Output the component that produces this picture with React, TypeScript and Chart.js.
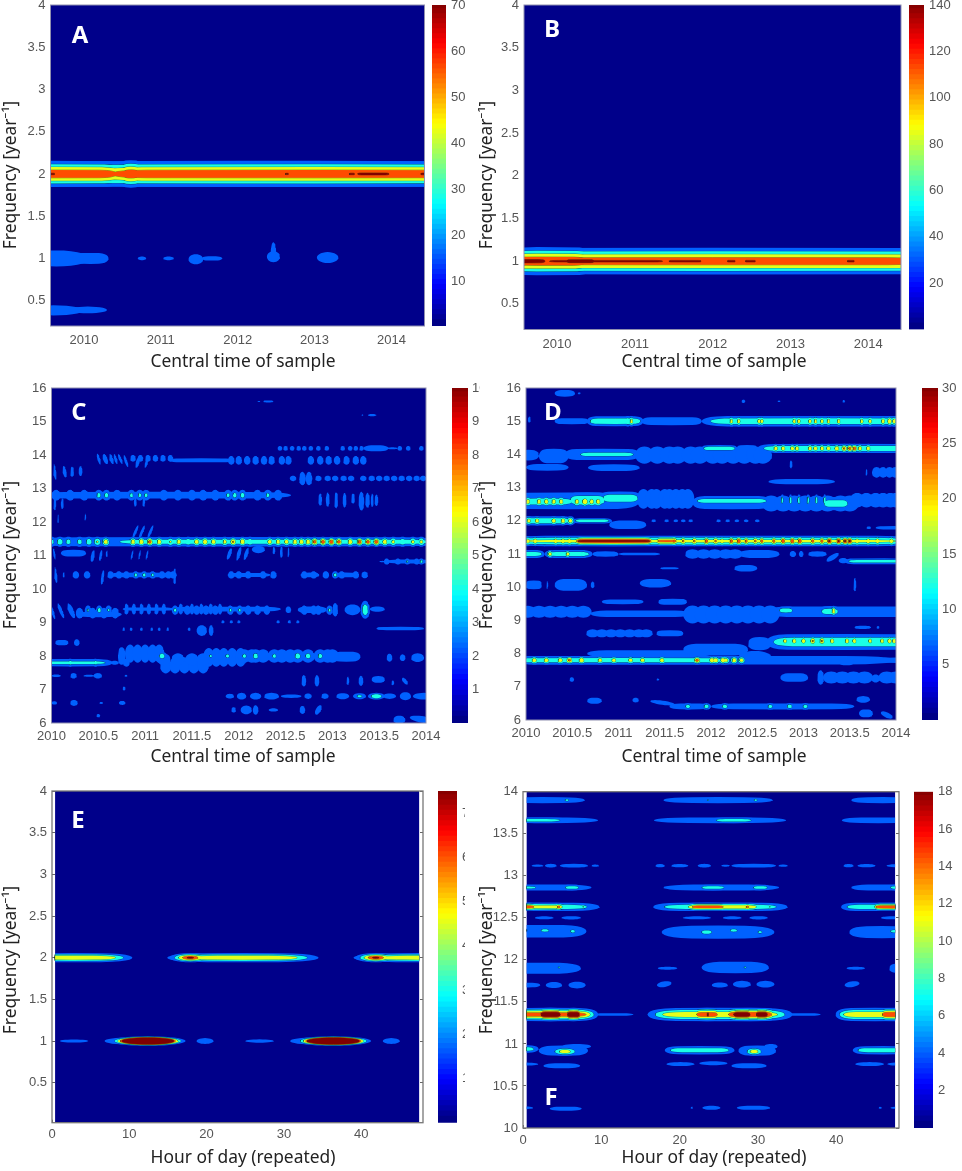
import { useEffect, useRef } from "react";
import { Chart, registerables } from "chart.js";

Chart.register(...registerables);

// lobe: [x0, x1, frequency, peak, half height, flatness?, tilt?]
// x0/x1 and half height are read at the outermost (blue) contour
type Lobe = number[];
// bead row: [frequency, half height, half width, [x, peak, x, peak, ...]]
type BeadRow = [number, number, number, number[]];

const yearsWhole = [2010, 2011, 2012, 2013, 2014];
const yearsHalf = [2010, 2010.5, 2011, 2011.5, 2012, 2012.5, 2013, 2013.5, 2014];
const hourTicks = [0, 10, 20, 30, 40];
const freqLowTicks = [0.5, 1, 1.5, 2, 2.5, 3, 3.5, 4];
const freqHighTicks = [6, 7, 8, 9, 10, 11, 12, 13, 14, 15, 16];
const freqFTicks = [10, 10.5, 11, 11.5, 12, 12.5, 13, 13.5, 14];
const barTicksA = [10, 20, 30, 40, 50, 60, 70];
const barTicksB = [20, 40, 60, 80, 100, 120, 140];
const barTicksC = [1, 2, 3, 4, 5, 6, 7, 8, 9, 10];
const barTicksD = [5, 10, 15, 20, 25, 30];
const barTicksE = [10, 20, 30, 40, 50, 60, 70];
const barTicksF = [2, 4, 6, 8, 10, 12, 14, 16, 18];

const levelFractions = [0.2, 0.4, 0.6, 0.8, 0.95];
const levelShades = [0.22, 0.4, 0.6, 0.8, 1];

const lobesA: Lobe[] = [
  [2008, 2016, 2, 55, 0.155, 8],
  [2008, 2010.55, 2, 64, 0.155, 14],
  [2010.1, 2016, 2, 64, 0.155, 16],
  [2010.42, 2010.8, 2, 64, 0.163, 3],
  [2013.45, 2013.52, 2, 200, 0.014, 12],
  [2013.55, 2013.98, 2, 200, 0.018, 12],
  [2012.62, 2012.66, 2, 200, 0.012, 12],
  [2014.38, 2014.5, 2, 200, 0.016, 12],
  [2009.55, 2009.62, 2, 200, 0.014, 12],
  [2009.2, 2010.08, 1, 18, 0.095],
  [2009.85, 2010.32, 1, 18, 0.065, 4],
  [2010.7, 2010.81, 1, 16, 0.022],
  [2011.03, 2011.17, 1, 16, 0.022],
  [2011.36, 2011.55, 0.99, 18, 0.06],
  [2011.53, 2011.8, 1, 16, 0.026, 3],
  [2012.38, 2012.55, 1.02, 18, 0.065],
  [2012.43, 2012.5, 1.08, 16, 0.11],
  [2013.03, 2013.31, 1.01, 18, 0.065],
  [2009.2, 2010.0, 0.385, 18, 0.06],
  [2009.8, 2010.3, 0.39, 16, 0.04],
];

const lobesB: Lobe[] = [
  [2008, 2016, 1, 125, 0.157, 8],
  [2009, 2010.48, 1, 128, 0.165, 10],
  [2009, 2009.87, 1, 300, 0.034, 14],
  [2010.12, 2010.48, 1, 300, 0.03, 14],
  [2009.87, 2011.39, 1, 300, 0.016, 18],
  [2011.43, 2011.86, 1, 300, 0.016, 18],
  [2012.19, 2012.29, 1, 300, 0.016, 18],
  [2012.42, 2012.55, 1, 300, 0.016, 18],
  [2013.73, 2013.82, 1, 300, 0.016, 18],
];

const lobesC: Lobe[] = [
  [2.26, 2.37, 15.6, 2.6, 0.03, 3],
  [2.2, 2.23, 15.6, 2.2, 0.015],
  [3.38, 3.47, 15.19, 2.5, 0.035],
  [3.31, 3.33, 15.19, 2.2, 0.02],
  [3.33, 3.6, 14.2, 3.3, 0.09, 3],
  [3.58, 3.7, 14.2, 2.2, 0.03],
  [1.25, 1.95, 13.84, 2.6, 0.06, 6],
  [0.49, 0.52, 13.88, 2.5, 0.16, 2, -0.015],
  [0.55, 0.6, 13.88, 2.6, 0.15, 2, -0.015],
  [0.62, 0.66, 13.88, 2.6, 0.15, 2, -0.015],
  [0.67, 0.7, 13.88, 2.6, 0.15, 2, -0.015],
  [0.72, 0.75, 13.88, 2.6, 0.15, 2, -0.02],
  [0.78, 0.81, 13.82, 2.6, 0.18, 2, -0.02],
  [0.9, 0.94, 13.78, 2.5, 0.16, 2, 0.015],
  [1.0, 1.03, 13.78, 2.5, 0.16, 2, 0.015],
  [0.02, 0.05, 13.5, 2.6, 0.24, 2, -0.01],
  [0.12, 0.16, 13.5, 2.6, 0.17, 2, -0.01],
  [0.2, 0.24, 13.5, 2.6, 0.15],
  [0.29, 0.33, 13.52, 2.6, 0.15],
  [-0.3, 2.56, 12.8, 3, 0.1, 8],
  [0.02, 0.05, 12.55, 2.5, 0.2],
  [0.1, 0.13, 12.55, 2.5, 0.16],
  [0.88, 0.91, 12.6, 2.4, 0.14],
  [0.97, 1.0, 12.6, 2.4, 0.14],
  [0.06, 0.08, 12.1, 2.3, 0.12],
  [0.35, 0.37, 12.15, 2.2, 0.1],
  [2.85, 2.89, 12.67, 2.7, 0.18],
  [2.93, 2.97, 12.67, 2.7, 0.21],
  [3.02, 3.06, 12.65, 2.7, 0.24],
  [3.11, 3.15, 12.65, 2.7, 0.22],
  [3.2, 3.24, 12.7, 2.7, 0.15],
  [3.28, 3.34, 12.62, 3, 0.28],
  [3.35, 3.4, 12.65, 3, 0.22],
  [3.41, 3.44, 12.65, 3, 0.2],
  [3.45, 3.49, 12.65, 3, 0.17],
  [-0.3, 4.3, 11.41, 3.6, 0.14, 10],
  [0.6, 4.2, 11.41, 5, 0.125, 14],
  [0.88, 0.91, 11.7, 2.5, 0.2, 2, 0.03],
  [0.95, 0.98, 11.7, 2.5, 0.2, 2, 0.03],
  [1.04, 1.07, 11.7, 2.5, 0.2, 2, 0.03],
  [0.02, 0.04, 11.05, 2.5, 0.17, 2, -0.01],
  [0.1, 0.37, 11.07, 2.9, 0.1, 4],
  [0.42, 0.46, 10.98, 2.6, 0.17, 2, 0.01],
  [0.51, 0.54, 11.0, 2.6, 0.16, 2, 0.01],
  [0.58, 0.6, 11.05, 2.4, 0.1],
  [0.85, 0.87, 11.02, 2.4, 0.14, 2, 0.01],
  [0.93, 0.95, 11.02, 2.4, 0.14, 2, 0.01],
  [1.01, 1.03, 11.02, 2.4, 0.14, 2, 0.01],
  [1.88, 1.92, 11.05, 2.6, 0.17, 2, 0.02],
  [1.98, 2.02, 11.05, 2.6, 0.2, 2, 0.02],
  [2.06, 2.1, 11.05, 2.6, 0.18, 2, 0.02],
  [2.14, 2.28, 11.18, 2.8, 0.11],
  [2.36, 2.39, 11.15, 2.4, 0.11],
  [2.44, 2.47, 11.1, 2.4, 0.17],
  [2.52, 2.54, 11.1, 2.4, 0.15],
  [3.5, 3.57, 10.82, 2.3, 0.02],
  [3.57, 4.1, 10.82, 2.9, 0.06, 4],
  [0.03, 0.06, 10.42, 2.6, 0.24, 2, -0.01],
  [0.12, 0.14, 10.42, 2.3, 0.08],
  [0.53, 0.56, 10.35, 2.6, 0.22, 2, 0.01],
  [0.62, 1.34, 10.42, 2.8, 0.07, 6],
  [1.3, 1.33, 10.38, 2.7, 0.24],
  [1.88, 2.34, 10.42, 2.8, 0.06, 4],
  [2.66, 2.86, 10.42, 2.8, 0.07, 4],
  [3.0, 3.28, 10.42, 2.8, 0.07, 4],
  [3.31, 3.38, 10.42, 2.6, 0.1],
  [0.0, 0.03, 9.3, 2.6, 0.2, 2, -0.02],
  [0.08, 0.12, 9.35, 2.6, 0.22, 2, -0.03],
  [0.18, 0.24, 9.35, 2.6, 0.22, 2, -0.03],
  [0.26, 0.75, 9.24, 2.9, 0.08, 4],
  [0.76, 1.3, 9.4, 2.6, 0.05, 6],
  [1.26, 2.45, 9.4, 2.9, 0.07, 8],
  [2.5, 2.56, 9.38, 2.6, 0.1],
  [2.63, 2.94, 9.38, 2.9, 0.1, 4],
  [3.0, 3.06, 9.38, 3, 0.2],
  [3.13, 3.3, 9.38, 3, 0.16],
  [3.3, 3.4, 9.38, 5.6, 0.27],
  [3.4, 3.56, 9.4, 2.6, 0.08],
  [3.47, 3.55, 8.82, 2.3, 0.04],
  [3.48, 3.98, 8.82, 2.8, 0.05, 6],
  [1.55, 1.66, 8.76, 2.8, 0.16],
  [1.68, 1.73, 8.76, 2.8, 0.16],
  [0.04, 0.18, 8.4, 2.9, 0.08, 4],
  [0.24, 0.3, 8.4, 2.9, 0.1],
  [-0.3, 0.65, 7.8, 4.4, 0.11, 8],
  [0.63, 0.72, 7.8, 2.4, 0.06],
  [0.71, 0.79, 8.0, 2.8, 0.26, 3],
  [3.0, 3.3, 7.98, 3, 0.15, 4],
  [3.58, 3.64, 7.95, 2.7, 0.12],
  [3.72, 3.78, 7.95, 2.7, 0.1],
  [3.84, 3.98, 7.95, 2.7, 0.13],
  [0.0, 0.1, 7.41, 2.6, 0.04],
  [0.2, 0.27, 7.41, 2.8, 0.08],
  [0.34, 0.46, 7.41, 2.4, 0.03],
  [0.45, 0.54, 7.41, 2.8, 0.08],
  [0.78, 0.81, 7.41, 2.2, 0.03],
  [0.76, 0.79, 7.03, 2.4, 0.06],
  [2.67, 2.72, 7.26, 2.8, 0.17],
  [2.81, 2.86, 7.26, 2.8, 0.17],
  [3.15, 3.18, 7.26, 2.6, 0.12],
  [3.28, 3.33, 7.26, 2.7, 0.15],
  [3.42, 3.56, 7.3, 2.9, 0.1, 3],
  [3.63, 3.66, 7.2, 2.4, 0.07],
  [3.75, 3.8, 7.25, 2.4, 0.1, 2, -0.02],
  [0.0, 0.06, 6.6, 2.6, 0.05],
  [0.2, 0.28, 6.6, 2.9, 0.09],
  [0.51, 0.55, 6.6, 2.2, 0.03],
  [0.72, 0.79, 6.6, 2.7, 0.06],
  [1.86, 1.95, 6.8, 2.8, 0.07],
  [1.98, 2.08, 6.8, 3, 0.1],
  [2.02, 2.14, 6.39, 3, 0.13],
  [1.92, 1.97, 6.39, 2.6, 0.08],
  [2.12, 2.24, 6.8, 3, 0.1],
  [2.27, 2.43, 6.8, 3, 0.1],
  [2.45, 2.67, 6.8, 2.6, 0.05, 3],
  [2.15, 2.21, 6.39, 2.9, 0.14],
  [2.32, 2.42, 6.39, 2.4, 0.05],
  [2.65, 2.71, 6.39, 2.7, 0.12],
  [2.82, 2.88, 6.39, 2.7, 0.14, 2, 0.02],
  [2.7, 2.78, 6.8, 3, 0.08],
  [2.88, 2.96, 6.8, 3, 0.08],
  [3.04, 3.18, 6.8, 3.3, 0.09],
  [3.22, 3.36, 6.8, 4.4, 0.09],
  [3.38, 3.56, 6.8, 5.8, 0.1],
  [3.54, 3.68, 6.8, 3.2, 0.08],
  [3.72, 3.84, 6.8, 3.5, 0.12],
  [3.86, 4.1, 6.8, 3, 0.1],
  [3.65, 3.78, 6.1, 2.9, 0.12],
  [3.85, 4.1, 6.1, 2.9, 0.12, 2, -0.08],
  [0.48, 0.52, 6.22, 2.5, 0.05],
];

const beadRowsC: BeadRow[] = [
  [14.2, 0.07, 0.025, [2.44, 2.2, 2.5, 2.2, 2.57, 2.7, 2.64, 2.9, 2.7, 2.9, 2.77, 2.5, 2.85, 2.3, 2.94, 2.2, 3.11, 2.1, 3.19, 2.2, 3.25, 2.2, 3.31, 2.3, 3.72, 2.3, 3.81, 2.2, 3.95, 2.1]],
  [13.9, 0.1, 0.03, [0.87, 2.6, 0.95, 2.6, 1.03, 2.6, 1.11, 2.6, 1.19, 2.6, 1.27, 2.6]],
  [13.84, 0.13, 0.035, [1.92, 3, 2.0, 3.1, 2.09, 3.1, 2.18, 3.1, 2.27, 3.1, 2.35, 3.1, 2.46, 2.2, 2.53, 2.2, 2.77, 2.2, 2.87, 2.8, 2.96, 2.8, 3.05, 2.9, 3.15, 2.9, 3.25, 2.7, 3.33, 2.3]],
  [13.3, 0.08, 0.035, [2.58, 2.7, 2.68, 3, 2.75, 3, 2.85, 2.8, 2.95, 2.9, 3.03, 2.9, 3.12, 2.8, 3.2, 2.9, 3.33, 2.3, 3.42, 2.6, 3.5, 2.7, 3.58, 2.7, 3.66, 2.8, 3.74, 2.8, 3.82, 2.8, 3.9, 2.9, 3.97, 3]],
  [13.3, 0.2, 0.035, [2.68, 2.8, 2.75, 2.8]],
  [12.8, 0.16, 0.045, [0.05, 2.8, 0.2, 2.9, 0.35, 2.9, 0.505, 4.6, 0.587, 4.6, 0.7, 2.9, 0.854, 4.4, 0.943, 4.4, 1.01, 4.4, 1.2, 2.9, 1.35, 2.9, 1.5, 3, 1.62, 3, 1.75, 3, 1.886, 4.4, 1.957, 4.6, 2.04, 4.7, 2.2, 3, 2.31, 4.4, 2.42, 3]],
  [11.41, 0.15, 0.05, [0, 4.8, 0.09, 5.4, 0.18, 4.8, 0.3, 4.8, 0.4, 5.4, 0.49, 6.2, 0.58, 7.5, 0.87, 7.5, 0.96, 7.8, 1.05, 8.9, 1.15, 7.5, 1.27, 6.2, 1.36, 7.2, 1.46, 5.4, 1.55, 7.5, 1.64, 7.8, 1.73, 7.5, 1.85, 7, 1.94, 8.2, 2.04, 7.8, 2.12, 5.4, 2.33, 7.2, 2.42, 7.2, 2.51, 7.2, 2.6, 7.5, 2.67, 7.5, 2.74, 7.5, 2.81, 8.9, 2.9, 9.2, 2.99, 9.4, 3.07, 8.9, 3.19, 7.8, 3.29, 9.2, 3.38, 9, 3.47, 9.2, 3.56, 7.5, 3.65, 6.6, 3.75, 5.4, 3.86, 6.6, 3.95, 6.6]],
  [10.82, 0.09, 0.03, [3.58, 3.4, 3.7, 3.2, 3.8, 4.2, 3.9, 3.8, 3.95, 4.6]],
  [10.42, 0.11, 0.035, [0.26, 2.8, 0.38, 3, 0.63, 3, 0.72, 2.8, 0.8, 2.9, 0.9, 4.6, 0.99, 4.6, 1.08, 4.4, 1.18, 2.9, 1.25, 2.9, 1.3, 3.5, 1.92, 2.8, 2.0, 3.2, 2.1, 3.2, 2.26, 3.2, 2.37, 2.9, 2.7, 2.8, 2.8, 2.8, 2.93, 3, 3.03, 4.6, 3.1, 3.4, 3.25, 3.2]],
  [9.37, 0.14, 0.035, [0.39, 4.2, 0.51, 4.8, 0.61, 4.2, 1.32, 4.4, 1.91, 4.3, 2.01, 4.3, 1.45, 2.8, 1.55, 2.8, 1.65, 2.8, 1.75, 2.8, 2.1, 2.8, 2.2, 3, 2.3, 3, 2.7, 2.8, 2.8, 2.8, 2.97, 4.3, 2.85, 3]],
  [9.28, 0.16, 0.04, [0.3, 2.8, 0.44, 2.8, 0.56, 2.8, 0.68, 2.8]],
  [9.4, 0.16, 0.024, [0.8, 2.8, 0.88, 2.8, 0.96, 2.8, 1.04, 2.8, 1.12, 2.8, 1.2, 2.8, 1.38, 2.8, 1.5, 2.8, 1.6, 2.8, 1.7, 2.8, 1.8, 2.8]],
  [9.02, 0.045, 0.018, [1.83, 2.5, 1.92, 2.5, 2.0, 2.4, 2.42, 2.4, 2.54, 2.4, 2.63, 2.3]],
  [8.8, 0.05, 0.015, [0.77, 2.1, 0.85, 2.2, 0.96, 2.5, 1.07, 2.6, 1.15, 2.5, 1.24, 2.4, 1.47, 2.3]],
  [8.07, 0.27, 0.055, [0.84, 2.9, 0.92, 2.9, 1.0, 2.9, 1.08, 2.9, 1.15, 3]],
  [7.96, 0.28, 0.06, [1.68, 2.9, 1.76, 3, 1.84, 3, 1.93, 3, 2.02, 3]],
  [7.72, 0.24, 0.06, [1.22, 2.9, 1.32, 2.9, 1.42, 2.9, 1.52, 3, 1.62, 3]],
  [7.9, 0.18, 0.07, [1.2, 2.9, 1.35, 2.9, 1.5, 2.9, 1.62, 2.9]],
  [8.0, 0.2, 0.07, [2.06, 4.2, 2.14, 3, 2.18, 4.4, 2.26, 3, 2.38, 4.2, 2.46, 3, 2.55, 3, 2.63, 4.5, 2.74, 4.4, 2.87, 4.3, 2.95, 3, 3.0, 3]],
  [8.0, 0.13, 0.05, [1.88, 4.4, 1.7, 4.2, 1.18, 5.2]],
  [7.8, 0.12, 0.035, [0.2, 4.8, 0.47, 4.6, 0.8, 3.6]],
];

const lobesD: Lobe[] = [
  [0.31, 0.53, 15.84, 7.5, 0.1, 3],
  [0.56, 0.59, 15.84, 6.6, 0.03],
  [2.33, 2.37, 15.6, 6.6, 0.05],
  [2.72, 2.75, 15.6, 6.5, 0.025],
  [3.42, 3.45, 15.6, 6.5, 0.04],
  [0.02, 0.05, 15.05, 7, 0.09],
  [0.31, 0.68, 15, 7, 0.09, 6],
  [0.66, 1.27, 15, 16, 0.15, 8],
  [1.25, 1.9, 15, 7.2, 0.12, 8],
  [1.9, 4.4, 15, 16, 0.16, 12],
  [-0.1, 0.14, 13.98, 7.5, 0.16, 3],
  [0.14, 0.46, 13.95, 7.5, 0.22, 4],
  [0.42, 1.23, 14.0, 7.5, 0.17, 8],
  [0.55, 1.2, 14.0, 15, 0.1, 8],
  [1.9, 2.28, 14.18, 15, 0.1, 8],
  [2.5, 4.4, 14.18, 16, 0.14, 12],
  [2.28, 2.5, 14.18, 7.5, 0.1, 6],
  [0.0, 0.46, 13.61, 7.2, 0.1, 4],
  [0.67, 1.23, 13.6, 7.2, 0.1, 4],
  [3.67, 3.69, 13.46, 6.5, 0.1],
  [2.62, 3.34, 13.18, 7, 0.08, 4],
  [2.85, 2.88, 13.7, 6.5, 0.12],
  [-0.3, 1.23, 12.6, 8, 0.25, 8],
  [-0.3, 0.55, 12.58, 15, 0.18, 8],
  [0.45, 0.88, 12.62, 16, 0.24, 6],
  [0.8, 1.24, 12.68, 16, 0.2, 6],
  [1.8, 2.65, 12.6, 15, 0.12, 8],
  [1.8, 2.65, 12.55, 7.6, 0.2, 8],
  [3.2, 3.5, 12.52, 15, 0.2, 6],
  [-0.3, 0.52, 12, 16, 0.14, 8],
  [0.5, 0.93, 12, 15, 0.08, 6],
  [0.9, 1.3, 11.88, 7.2, 0.13, 4],
  [-0.3, 4.3, 11.39, 19, 0.16, 12],
  [0.5, 1.4, 11.39, 29.6, 0.155, 12],
  [1.4, 1.65, 11.39, 25, 0.15, 8],
  [-0.3, 0.2, 11, 15, 0.12, 8],
  [0.2, 0.72, 11, 15.5, 0.12, 6],
  [0.72, 1.0, 11, 7, 0.08, 4],
  [1.0, 1.45, 11, 6.6, 0.04, 6],
  [2.3, 2.74, 11, 7.4, 0.12, 4],
  [2.85, 2.92, 11, 7, 0.09],
  [2.95, 3.0, 11, 7, 0.09],
  [3.05, 3.25, 11, 7, 0.08, 3],
  [3.27, 3.36, 10.9, 7, 0.13, 2, 0.05],
  [3.38, 3.48, 10.8, 7, 0.08],
  [3.45, 4.3, 10.78, 14, 0.09, 12],
  [3.68, 3.73, 11.79, 6.6, 0.04],
  [3.78, 4.2, 11.79, 6.8, 0.05, 6],
  [2.25, 2.5, 10.57, 7.2, 0.1, 3],
  [1.45, 1.65, 10.57, 6.6, 0.03, 6],
  [0, 0.17, 10.07, 7.4, 0.13, 6],
  [0.22, 0.24, 10.07, 6.6, 0.12],
  [0.31, 0.66, 10.07, 7.4, 0.18, 4],
  [0.7, 0.74, 10.07, 6.6, 0.1],
  [1.23, 1.57, 10.12, 7.4, 0.13, 3],
  [0.82, 1.27, 9.56, 7, 0.07, 6],
  [1.43, 1.74, 9.56, 7, 0.09, 6],
  [0.7, 1.78, 9.2, 7.4, 0.1, 8],
  [2.6, 4.3, 9.26, 7.8, 0.16, 10],
  [2.72, 2.9, 9.3, 15, 0.12, 4],
  [3.17, 3.4, 9.27, 15, 0.16, 4],
  [3.3, 3.35, 9.28, 22, 0.16, 3],
  [3.54, 3.57, 10.08, 6.4, 0.2],
  [1.41, 1.7, 8.61, 7.4, 0.09, 6],
  [3.55, 3.73, 8.79, 6.7, 0.05, 3],
  [3.79, 3.82, 8.79, 6.4, 0.04],
  [2.4, 2.65, 8.3, 7.6, 0.2, 3],
  [2.6, 4.3, 8.35, 16, 0.24, 10],
  [-0.3, 4.0, 7.8, 6.8, 0.13, 10],
  [-0.3, 2.3, 7.8, 15, 0.13, 10],
  [0.66, 2.0, 8.0, 7, 0.1, 8],
  [1.7, 2.4, 8.12, 7.4, 0.18, 6],
  [2.3, 2.65, 7.9, 7.4, 0.18],
  [2.65, 2.96, 7.8, 6.7, 0.05, 6],
  [3.0, 3.04, 7.8, 6.7, 0.05],
  [3.13, 3.18, 7.8, 7, 0.08],
  [3.25, 3.3, 7.8, 7, 0.07],
  [3.38, 3.55, 7.75, 7.4, 0.1, 3],
  [3.72, 3.79, 7.8, 6.7, 0.06],
  [3.83, 4.2, 7.8, 7, 0.08, 6],
  [0.47, 0.52, 7.22, 7.2, 0.07],
  [1.41, 1.44, 7.22, 6.5, 0.03],
  [2.75, 3.05, 7.28, 7.6, 0.13, 4],
  [3.15, 3.22, 7.28, 7.6, 0.22],
  [3.73, 3.83, 7.25, 7, 0.12],
  [0.66, 0.82, 6.58, 7.2, 0.09, 3],
  [1.15, 1.22, 6.6, 7, 0.07],
  [3.57, 3.72, 6.62, 7.4, 0.1],
  [1.37, 1.58, 6.52, 7, 0.08, 2, -0.08],
  [1.55, 2.0, 6.41, 7.2, 0.09, 4],
  [2.0, 3.55, 6.41, 7, 0.09, 8],
  [3.6, 3.75, 6.2, 7.4, 0.12, 3],
  [3.85, 3.95, 6.15, 7.2, 0.11, 2, -0.04],
];

const beadRowsD: BeadRow[] = [
  [15, 0.16, 0.04, [1.1, 16, 1.14, 21, 2.22, 21, 2.3, 21, 2.52, 21, 2.55, 21, 2.9, 21, 2.95, 21, 3.07, 21, 3.13, 21, 3.2, 21, 3.27, 21, 3.38, 21, 3.63, 21, 3.72, 21, 3.86, 22, 3.93, 24, 3.98, 22]],
  [13.98, 0.26, 0.1, [1.28, 7.4, 1.42, 7.4, 1.55, 7.4, 1.64, 7.4, 1.78, 7.4, 1.88, 7.4, 2.02, 7.4, 2.12, 7.4, 2.24, 7.4, 2.36, 7.4, 2.48, 7.2, 2.56, 7]],
  [14.18, 0.14, 0.05, [2.7, 21.5, 2.78, 21.5, 2.88, 21.5, 2.93, 21.5, 3.07, 21.5, 3.13, 21.5, 3.2, 21.5, 3.27, 21.5, 3.36, 23, 3.44, 25, 3.5, 26, 3.55, 27, 3.61, 21.5, 3.7, 21.5]],
  [13.46, 0.16, 0.05, [3.79, 7.6, 3.86, 7.6, 3.93, 7.6, 3.99, 7.6]],
  [12.58, 0.17, 0.05, [0.02, 21.5, 0.14, 21.5, 0.22, 21.5, 0.3, 21.5, 0.38, 21.5, 0.55, 21.5, 0.63, 22, 0.64, 23.5, 0.71, 21.5, 0.78, 21.5]],
  [12.62, 0.18, 0.02, [2.77, 15, 2.86, 16, 2.95, 16, 3.05, 16, 3.14, 16, 3.23, 16]],
  [12.66, 0.3, 0.07, [1.27, 7.6, 1.36, 7.6, 1.41, 7.6, 1.5, 7.6, 1.55, 7.6, 1.62, 7.6, 1.69, 7.6, 1.75, 7.4]],
  [12.52, 0.24, 0.1, [2.65, 7.4, 2.78, 7.4, 2.9, 7.4, 3.02, 7.4, 3.14, 7.6, 3.26, 7.8, 3.4, 7.8, 3.5, 7.6]],
  [12.62, 0.22, 0.08, [3.58, 7.4, 3.68, 7.4, 3.78, 7.6, 3.86, 7.6, 3.94, 7.6, 4.0, 7.6]],
  [12.0, 0.14, 0.05, [0.03, 21, 0.12, 21.5, 0.3, 22, 0.4, 22, 0.48, 21.5]],
  [12.0, 0.04, 0.025, [1.38, 6.8, 1.52, 6.6, 1.62, 6.6, 1.7, 6.6, 1.78, 6.6, 2.08, 6.5, 2.18, 6.6, 2.28, 6.5, 2.38, 6.4, 2.5, 6.4]],
  [11.39, 0.155, 0.05, [0.02, 21, 0.1, 21.5, 0.2, 17, 0.32, 21.5, 0.4, 21.5, 0.47, 22, 1.6, 25.5, 1.7, 25, 1.82, 25, 1.95, 27, 2.05, 25, 2.12, 21.5, 2.22, 27, 2.3, 28, 2.38, 26, 2.48, 25, 2.55, 26, 2.68, 26, 2.78, 28, 2.88, 28, 2.96, 28, 3.1, 26, 3.2, 26, 3.28, 29.5, 3.38, 29.5, 3.45, 29.5, 3.5, 29.5, 3.58, 21.5, 3.7, 22, 3.8, 22, 3.95, 21.5]],
  [11, 0.12, 0.045, [0.26, 21.5, 0.45, 21.5, 0.62, 15]],
  [11, 0.14, 0.08, [1.8, 7.4, 1.92, 7.6, 2.04, 7.6, 2.16, 7.4, 2.26, 7.2]],
  [9.26, 0.18, 0.09, [0.02, 7.6, 0.14, 7.6, 0.26, 7.8, 0.38, 7.8, 0.5, 7.6, 0.62, 7.6]],
  [9.18, 0.27, 0.1, [1.8, 7.6, 1.92, 7.6, 2.04, 7.6, 2.16, 7.6, 2.28, 7.6, 2.4, 7.6, 2.52, 7.6, 2.64, 7.4]],
  [8.61, 0.12, 0.07, [0.72, 7.2, 0.82, 7.4, 0.92, 7.4, 1.02, 7.4, 1.12, 7.4, 1.22, 7.2, 1.3, 7]],
  [8.38, 0.15, 0.045, [2.8, 21, 2.9, 22, 3.0, 22.5, 3.1, 25, 3.2, 25, 3.31, 22, 3.47, 22, 3.55, 22, 3.72, 21, 3.85, 21.5, 3.93, 22, 3.98, 22]],
  [7.8, 0.13, 0.055, [0.09, 22.5, 0.22, 22.5, 0.37, 22.5, 0.47, 25.5, 0.6, 24, 0.8, 21.5, 0.95, 21.5, 1.13, 21.5, 1.26, 21.5, 1.47, 22, 1.85, 26, 2.05, 23, 2.16, 21.5]],
  [7.8, 0.13, 0.05, [2.01, 24, 2.13, 24, 2.25, 23, 2.33, 21.5]],
  [7.28, 0.18, 0.09, [3.3, 7.6, 3.42, 7.8, 3.54, 7.8, 3.66, 7.6, 3.9, 7.4, 4.0, 7.4]],
  [6.41, 0.1, 0.05, [1.75, 14.5, 1.95, 15, 2.15, 15, 2.64, 14.5, 2.85, 15, 3.02, 14.5]],
];

const lobesE: Lobe[] = [
  [-5, 10.4, 2, 58, 0.055, 4],
  [14.9, 34.5, 2, 58, 0.055, 4],
  [15.2, 20.6, 2, 74, 0.055],
  [39, 60, 2, 58, 0.055, 4],
  [39.2, 44.6, 2, 74, 0.055],
  [7.5, 17.3, 1, 300, 0.058],
  [6.8, 12, 1, 20, 0.04],
  [31.5, 41.3, 1, 300, 0.058],
  [30.8, 36, 1, 20, 0.04],
  [1, 4.7, 1, 18, 0.018],
  [18.7, 20.9, 1, 18, 0.035],
  [25, 28.7, 1, 18, 0.02],
  [42.8, 45, 1, 18, 0.035],
];

const lobesF: Lobe[] = [
  [-3, 7.9, 13.9, 4.6, 0.036, 4],
  [17.9, 31.9, 13.9, 4.6, 0.036, 4],
  [41.9, 50, 13.9, 4.6, 0.036, 4],
  [5, 6.2, 13.9, 8, 0.026],
  [23.2, 24, 13.9, 7.4, 0.02],
  [29.2, 30.2, 13.9, 8, 0.026],
  [-3, 9.6, 13.66, 4.6, 0.034, 3],
  [-3, 6, 13.66, 8.4, 0.034, 4],
  [16.7, 33.6, 13.66, 4.6, 0.034, 4],
  [23.8, 30, 13.66, 8.4, 0.034, 4],
  [40.7, 50, 13.66, 4.6, 0.034, 4],
  [1.1, 2.6, 13.12, 4, 0.014],
  [2.8, 4.3, 13.12, 4.2, 0.022],
  [4.7, 8.3, 13.12, 4.2, 0.022, 3],
  [8.75, 9.7, 13.12, 4, 0.014],
  [16.9, 18.1, 13.12, 4, 0.02],
  [18.9, 21.1, 13.12, 4, 0.02],
  [22.3, 24, 13.12, 4, 0.022],
  [25.3, 26.4, 13.12, 3.9, 0.012],
  [26.6, 32.3, 13.12, 4.2, 0.022, 4],
  [32.6, 33.8, 13.12, 4, 0.014],
  [40.9, 42.2, 13.12, 4, 0.02],
  [42.7, 45, 13.12, 4, 0.02],
  [46.4, 50, 13.12, 4, 0.02],
  [-3, 8.75, 12.86, 4.6, 0.036, 4],
  [-2, 2.2, 12.86, 8.4, 0.028, 4],
  [5.1, 7.4, 12.86, 8.4, 0.034, 4],
  [17.9, 32.7, 12.86, 4.6, 0.036, 4],
  [22.3, 26.2, 12.86, 8.4, 0.034, 4],
  [29.1, 31.5, 12.86, 8.4, 0.034, 4],
  [41.9, 50, 12.86, 4.6, 0.036, 4],
  [46.4, 50, 12.86, 8.4, 0.034, 4],
  [-3, 9.8, 12.63, 9, 0.05, 4],
  [-3, 6, 12.63, 12.5, 0.05, 6],
  [-3, 1.95, 12.63, 16.5, 0.05, 6],
  [3.8, 5.3, 12.63, 15.5, 0.044],
  [7.2, 8.2, 12.63, 11, 0.026],
  [16.6, 33.8, 12.63, 9, 0.05, 6],
  [20.5, 30.4, 12.63, 13, 0.05, 10],
  [21.2, 26, 12.63, 16, 0.048, 8],
  [27.9, 29.4, 12.63, 15.5, 0.044],
  [31.1, 31.9, 12.63, 11, 0.026],
  [40.6, 50, 12.63, 9, 0.05, 6],
  [44.6, 50, 12.63, 16.5, 0.05, 8],
  [1.5, 3.9, 12.5, 4.2, 0.018],
  [4.9, 7.4, 12.5, 4.2, 0.02],
  [20.4, 24, 12.5, 4.2, 0.018],
  [25.5, 27.9, 12.5, 4.2, 0.018],
  [28.9, 31.25, 12.5, 4.2, 0.02],
  [45.7, 50, 12.5, 4.2, 0.018, 4],
  [-3, 8.1, 12.34, 4.8, 0.075, 4],
  [-1, 0.9, 12.35, 8.4, 0.028],
  [1.7, 3.9, 12.35, 8.4, 0.034],
  [5.7, 7, 12.34, 8.4, 0.034],
  [17.7, 32.1, 12.33, 4.8, 0.078, 4],
  [22, 24.9, 12.33, 8.4, 0.048],
  [25.9, 27.9, 12.35, 8.4, 0.034],
  [29.7, 30.8, 12.33, 8.4, 0.028],
  [41.65, 50, 12.33, 4.8, 0.072, 4],
  [46.4, 50, 12.34, 8.4, 0.036, 4],
  [-3, 7.4, 11.9, 4.6, 0.066, 4],
  [4.3, 4.9, 11.91, 8, 0.02],
  [17.2, 19.7, 11.9, 4, 0.018],
  [22.8, 31.4, 11.91, 4.6, 0.068, 4],
  [28, 28.7, 11.91, 8, 0.02],
  [41.3, 43.65, 11.9, 4, 0.018],
  [46.75, 50, 11.9, 4.6, 0.056, 4],
  [-1, 2.2, 11.7, 4.2, 0.028, 3],
  [2.9, 5, 11.7, 4.6, 0.036],
  [5.8, 8, 11.7, 4.6, 0.04],
  [17.15, 18.9, 11.71, 4.2, 0.036, 2, 0.3],
  [24.1, 26.15, 11.7, 4.2, 0.03],
  [26.8, 29.1, 11.71, 4.6, 0.04],
  [29.8, 32.1, 11.71, 4.6, 0.04],
  [41.1, 42.9, 11.71, 4.2, 0.036, 2, 0.3],
  [-3, 9.6, 11.35, 16, 0.08, 6],
  [1.95, 5.1, 11.35, 21, 0.08, 6],
  [5.5, 7.4, 11.35, 21, 0.08, 6],
  [9, 14.1, 11.35, 4, 0.016, 4],
  [15.9, 34.4, 11.35, 13, 0.08, 6],
  [21.8, 25.2, 11.35, 16.5, 0.08, 6],
  [23.2, 24, 11.35, 19, 0.06],
  [25.7, 32.3, 11.35, 17, 0.08, 8],
  [26.6, 29.3, 11.35, 20, 0.078, 6],
  [29.6, 31.4, 11.35, 20, 0.078, 6],
  [33.5, 38, 11.35, 4, 0.016, 4],
  [39.9, 50, 11.35, 13, 0.08, 6],
  [45.5, 50, 11.35, 17, 0.08, 8],
  [-3, 2, 10.94, 9, 0.045, 4],
  [2, 8.3, 10.92, 6, 0.06, 4],
  [5, 8.7, 10.97, 4.6, 0.03],
  [3.5, 7.2, 10.91, 13, 0.05],
  [18.1, 27, 10.925, 9, 0.05, 6],
  [27.5, 32.3, 10.92, 6, 0.06, 4],
  [28.2, 30.8, 10.91, 13, 0.05],
  [30.8, 32.5, 10.97, 4.6, 0.03],
  [42.1, 50, 10.925, 9, 0.05, 6],
  [-1, 1.95, 10.76, 4, 0.018],
  [2.6, 7.3, 10.74, 4.6, 0.03, 3],
  [18.3, 21.9, 10.76, 4, 0.024],
  [22.5, 26.1, 10.77, 4.2, 0.024],
  [26.6, 31.1, 10.74, 4.6, 0.03, 3],
  [42.4, 46.1, 10.76, 4.2, 0.024],
  [46.5, 50, 10.76, 4, 0.02],
  [-1, 1.3, 10.24, 4, 0.016],
  [3.4, 7.5, 10.23, 4.2, 0.024, 3],
  [21.4, 21.7, 10.24, 3.9, 0.012],
  [22.9, 25.2, 10.24, 4.2, 0.024],
  [27.3, 31.55, 10.24, 4.2, 0.024, 3],
  [45.4, 45.8, 10.24, 3.9, 0.012],
  [46.9, 50, 10.24, 4, 0.016],
];

type Rect = { x: number; y: number; w: number; h: number };
type Plot = { l: number; t: number; r: number; b: number };

type PanelSpec = {
  letter: string;
  letterAt: [number, number];
  cell: Rect;
  plot: Plot;
  xRange: [number, number];
  yRange: [number, number];
  field: [number, number];
  xOffset: number;
  xTicks: number[];
  yTicks: number[];
  lobes: Lobe[];
  rows: BeadRow[];
  maxValue: number;
  xTitle: string;
  xTitleAt: [number, number];
  yTitleAt: [number, number];
  xPad: number;
  ticked: boolean;
  bar: { cell: Rect; plot: Plot; ticks: number[]; range: [number, number]; pad: number };
};

const TIME_TITLE = "Central time of sample";
const HOUR_TITLE = "Hour of day (repeated)";
const FREQ_TITLE = "Frequency [year\u207B\u00B9]";
const TICK_FONT = { family: "'Liberation Sans', Arial, sans-serif", size: 13 };
const TICK_COLOR = "#555";

const panels: PanelSpec[] = [
  {
    letter: "A", letterAt: [80, 36],
    cell: { x: 0, y: 0, w: 430, h: 380 },
    plot: { l: 50.5, t: 5, r: 424.5, b: 326 },
    xRange: [2009.565, 2014.43], yRange: [0.2, 4], field: [2009.565, 2014.43], xOffset: 0,
    xTicks: yearsWhole, yTicks: freqLowTicks, lobes: lobesA, rows: [], maxValue: 70,
    xTitle: TIME_TITLE, xTitleAt: [243, 362], yTitleAt: [11, 175], xPad: 7, ticked: false,
    bar: { cell: { x: 430, y: 0, w: 48, h: 340 }, plot: { l: 432, t: 5, r: 446, b: 326 }, ticks: barTicksA, range: [0.2, 70], pad: 5 },
  },
  {
    letter: "B", letterAt: [552, 30],
    cell: { x: 478, y: 0, w: 428, h: 380 },
    plot: { l: 524, t: 5, r: 901, b: 329.5 },
    xRange: [2009.575, 2014.42], yRange: [0.2, 4], field: [2009.575, 2014.42], xOffset: 0,
    xTicks: yearsWhole, yTicks: freqLowTicks, lobes: lobesB, rows: [], maxValue: 140,
    xTitle: TIME_TITLE, xTitleAt: [714, 362], yTitleAt: [487, 175], xPad: 7, ticked: false,
    bar: { cell: { x: 906, y: 0, w: 56, h: 340 }, plot: { l: 909, t: 5, r: 924, b: 329.5 }, ticks: barTicksB, range: [0, 140], pad: 5 },
  },
  {
    letter: "C", letterAt: [79, 413],
    cell: { x: 0, y: 380, w: 450, h: 392 },
    plot: { l: 51.5, t: 388, r: 426, b: 723 },
    xRange: [2010, 2014], yRange: [6, 16], field: [2010, 2014], xOffset: 2010,
    xTicks: yearsHalf, yTicks: freqHighTicks, lobes: lobesC, rows: beadRowsC, maxValue: 10,
    xTitle: TIME_TITLE, xTitleAt: [243, 757], yTitleAt: [11, 555], xPad: 6, ticked: false,
    bar: { cell: { x: 450, y: 380, w: 30, h: 350 }, plot: { l: 452, t: 388, r: 468, b: 723 }, ticks: barTicksC, range: [0, 10], pad: 4 },
  },
  {
    letter: "D", letterAt: [553, 413],
    cell: { x: 478, y: 380, w: 440, h: 392 },
    plot: { l: 526, t: 388, r: 896, b: 720 },
    xRange: [2010, 2014], yRange: [6, 16], field: [2010, 2014], xOffset: 2010,
    xTicks: yearsHalf, yTicks: freqHighTicks, lobes: lobesD, rows: beadRowsD, maxValue: 30,
    xTitle: TIME_TITLE, xTitleAt: [714, 757], yTitleAt: [487, 555], xPad: 6, ticked: false,
    bar: { cell: { x: 918, y: 380, w: 44, h: 350 }, plot: { l: 922, t: 388, r: 938, b: 720 }, ticks: barTicksD, range: [0, 30], pad: 4 },
  },
  {
    letter: "E", letterAt: [78, 821],
    cell: { x: 0, y: 775, w: 436, h: 396 },
    plot: { l: 52, t: 791, r: 423, b: 1122.7 },
    xRange: [0, 48], yRange: [0.02, 4], field: [0.4, 47.5], xOffset: 0,
    xTicks: hourTicks, yTicks: freqLowTicks, lobes: lobesE, rows: [], maxValue: 75,
    xTitle: HOUR_TITLE, xTitleAt: [243, 1158], yTitleAt: [11, 960], xPad: 4, ticked: true,
    bar: { cell: { x: 436, y: 775, w: 29, h: 360 }, plot: { l: 438, t: 791, r: 457, b: 1122.7 }, ticks: barTicksE, range: [0, 75], pad: 5 },
  },
  {
    letter: "F", letterAt: [551, 1098],
    cell: { x: 478, y: 775, w: 434, h: 396 },
    plot: { l: 523, t: 791.7, r: 899, b: 1128 },
    xRange: [0, 48], yRange: [10, 14], field: [0.47, 47.5], xOffset: 0,
    xTicks: hourTicks, yTicks: freqFTicks, lobes: lobesF, rows: [], maxValue: 18,
    xTitle: HOUR_TITLE, xTitleAt: [714, 1158], yTitleAt: [487, 960], xPad: 5, ticked: true,
    bar: { cell: { x: 912, y: 775, w: 50, h: 360 }, plot: { l: 914, t: 791.7, r: 933, b: 1128 }, ticks: barTicksF, range: [0, 18], pad: 5 },
  },
];

const clamp01 = (v: number) => Math.max(0, Math.min(1, v));

// matlab jet
const jet = (t: number) => {
  const r = clamp01(Math.min(4 * t - 1.5, -4 * t + 4.5));
  const g = clamp01(Math.min(4 * t - 0.5, -4 * t + 3.5));
  const b = clamp01(Math.min(4 * t + 0.5, -4 * t + 2.5));
  return `rgb(${Math.round(r * 255)},${Math.round(g * 255)},${Math.round(b * 255)})`;
};

const beadsToLobes = (rows: BeadRow[]): Lobe[] =>
  rows.flatMap(([f, h, w, pairs]) => {
    const out: Lobe[] = [];
    for (let i = 0; i < pairs.length; i += 2) out.push([pairs[i] - w, pairs[i] + w, f, pairs[i + 1], h]);
    return out;
  });

// contour of one lobe at a given level, in data units
const lobeOutline = (lobe: Lobe, level: number, base: number, spec: PanelSpec) => {
  const [x0, x1, f, peak, h, flat = 2, tilt = 0] = lobe;
  if (peak <= level || peak <= base) return null;
  const s = Math.sqrt(Math.log(peak / level) / Math.log(peak / base));
  const half = (x1 - x0) / 2;
  const mid = (x0 + x1) / 2 + spec.xOffset;
  const a = half - (1 - s) * half * (2 / flat);
  const pts = [];
  for (let i = 0; i <= 28; i++) {
    const t = (i / 28) * Math.PI * 2;
    const c = Math.cos(t);
    const si = Math.sin(t);
    const x = mid + a * Math.sign(c) * Math.pow(Math.abs(c), 2 / flat) + tilt * si * s;
    pts.push({ x: Math.max(spec.field[0], Math.min(spec.field[1], x)), y: f + h * s * si });
  }
  return pts;
};

const buildDatasets = (spec: PanelSpec) => {
  const shape = { showLine: true, pointRadius: 0, tension: 0, parsing: false };
  const painted: any[] = [
    {
      ...shape,
      data: [
        { x: spec.field[0], y: spec.yRange[0] },
        { x: spec.field[1], y: spec.yRange[0] },
        { x: spec.field[1], y: spec.yRange[1] },
        { x: spec.field[0], y: spec.yRange[1] },
      ],
      borderWidth: 0,
      fill: "shape",
      backgroundColor: jet(0.01),
    },
  ];
  const lobes = [...spec.lobes, ...beadsToLobes(spec.rows)];
  const base = levelFractions[0] * spec.maxValue;
  levelFractions.forEach((fraction, idx) => {
    const level = fraction * spec.maxValue;
    const outlines = lobes.map(l => lobeOutline(l, level, base, spec)).filter(Boolean);
    // lines first, then all fills of the level, so only the outer edge of a union keeps its line
    if (idx > 0) {
      outlines.forEach(data =>
        painted.push({ ...shape, data, fill: false, borderWidth: 0.8, borderColor: "rgba(0,40,20,0.55)" })
      );
    }
    outlines.forEach(data =>
      painted.push({ ...shape, data, fill: "shape", borderWidth: 0, backgroundColor: jet(levelShades[idx]) })
    );
  });
  // chart.js paints the last dataset first
  return painted.reverse();
};

const ContourPanel = ({ spec }: { spec: PanelSpec }) => {
  const canvasRef = useRef<HTMLCanvasElement | null>(null);

  useEffect(() => {
    if (!canvasRef.current) return;
    const { cell, plot } = spec;
    const tickList = (values: number[]) => (scale: any) => {
      scale.ticks = values.map(value => ({ value }));
    };
    const zeroPadding = (scale: any) => {
      scale.paddingLeft = scale.paddingRight = scale.paddingTop = scale.paddingBottom = 0;
    };
    const gridOpts = {
      drawOnChartArea: false,
      drawTicks: spec.ticked,
      tickLength: -3,
      color: "#666",
    };
    const scales: any = {
      x: {
        type: "linear",
        min: spec.xRange[0],
        max: spec.xRange[1],
        grid: gridOpts,
        border: { display: false },
        afterBuildTicks: tickList(spec.xTicks),
        afterFit: (s: any) => {
          s.height = cell.y + cell.h - plot.b;
          zeroPadding(s);
        },
        ticks: {
          autoSkip: false,
          maxRotation: 0,
          font: TICK_FONT,
          color: TICK_COLOR,
          padding: spec.xPad + (spec.ticked ? 3 : 0),
          callback: (v: number) => String(v),
        },
      },
      y: {
        type: "linear",
        min: spec.yRange[0],
        max: spec.yRange[1],
        grid: gridOpts,
        border: { display: false },
        afterBuildTicks: tickList(spec.yTicks),
        afterFit: (s: any) => {
          s.width = plot.l - cell.x;
          zeroPadding(s);
        },
        ticks: {
          autoSkip: false,
          font: TICK_FONT,
          color: TICK_COLOR,
          padding: 5 + (spec.ticked ? 3 : 0),
          callback: (v: number) => String(v),
        },
      },
    };
    if (spec.ticked) {
      scales.y2 = {
        type: "linear",
        position: "right",
        min: spec.yRange[0],
        max: spec.yRange[1],
        grid: gridOpts,
        border: { display: false },
        ticks: { display: false },
        afterBuildTicks: tickList(spec.yTicks),
        afterFit: (s: any) => {
          s.width = 0;
          zeroPadding(s);
        },
      };
    }

    const panelText = {
      id: "panelText",
      afterDraw(chart: any) {
        const { ctx, chartArea } = chart;
        ctx.save();
        ctx.strokeStyle = spec.ticked ? "#777" : "#8f8fb0";
        ctx.lineWidth = spec.ticked ? 1.3 : 1;
        ctx.strokeRect(chartArea.left, chartArea.top, chartArea.right - chartArea.left, chartArea.bottom - chartArea.top);
        ctx.textAlign = "center";
        ctx.textBaseline = "middle";
        ctx.fillStyle = "#fff";
        ctx.font = "bold 24px 'Open Sans'";
        ctx.fillText(spec.letter, spec.letterAt[0] - cell.x, spec.letterAt[1] - cell.y);
        ctx.fillStyle = "#222";
        ctx.font = "17.4px 'Noto Sans'";
        ctx.fillText(spec.xTitle, spec.xTitleAt[0] - cell.x, spec.xTitleAt[1] - cell.y);
        ctx.translate(spec.yTitleAt[0] - cell.x, spec.yTitleAt[1] - cell.y);
        ctx.rotate(-Math.PI / 2);
        ctx.fillText(FREQ_TITLE, 0, 0);
        ctx.restore();
      },
    };

    const chart = new Chart(canvasRef.current, {
      type: "scatter",
      data: { datasets: buildDatasets(spec) },
      options: {
        animation: false,
        responsive: false,
        events: [],
        layout: { padding: { left: 0, top: plot.t - cell.y, right: cell.x + cell.w - plot.r, bottom: 0 } },
        plugins: { legend: { display: false }, tooltip: { enabled: false } },
        scales,
      } as any,
      plugins: [panelText],
    });

    return () => {
      chart.destroy();
    };
  }, [spec]);

  const { cell } = spec;
  return (
    <canvas
      ref={canvasRef}
      width={cell.w}
      height={cell.h}
      style={{ position: "absolute", left: cell.x, top: cell.y, filter: "blur(0.45px)" }}
    />
  );
};

const ColorBar = ({ spec }: { spec: PanelSpec }) => {
  const canvasRef = useRef<HTMLCanvasElement | null>(null);

  useEffect(() => {
    if (!canvasRef.current) return;
    const { cell, plot, ticks, range, pad } = spec.bar;
    const steps = 64;
    const step = (range[1] - range[0]) / steps;
    const datasets = Array.from({ length: steps }, (_, i) => ({
      data: [[range[0] + i * step, Math.min(range[1], range[0] + (i + 1.3) * step)]],
      backgroundColor: jet((i + 0.5) / steps),
      barPercentage: 1,
      categoryPercentage: 1,
    }));

    const chart = new Chart(canvasRef.current, {
      type: "bar",
      data: { labels: [""], datasets: datasets as any },
      options: {
        animation: false,
        responsive: false,
        events: [],
        layout: {
          padding: { left: plot.l - cell.x, top: plot.t - cell.y, right: 0, bottom: cell.y + cell.h - plot.b },
        },
        plugins: { legend: { display: false }, tooltip: { enabled: false } },
        scales: {
          x: { display: false, stacked: true },
          y: {
            position: "right",
            min: range[0],
            max: range[1],
            grid: { display: false, drawTicks: false },
            border: { display: false },
            afterBuildTicks: (s: any) => {
              s.ticks = ticks.map(value => ({ value }));
            },
            afterFit: (s: any) => {
              s.width = cell.x + cell.w - plot.r;
              s.paddingTop = s.paddingBottom = 0;
            },
            ticks: {
              autoSkip: false,
              font: TICK_FONT,
              color: TICK_COLOR,
              padding: pad,
              callback: (v: number) => String(v),
            },
          },
        },
      } as any,
    });

    return () => {
      chart.destroy();
    };
  }, [spec]);

  const { cell } = spec.bar;
  return (
    <canvas
      ref={canvasRef}
      width={cell.w}
      height={cell.h}
      style={{ position: "absolute", left: cell.x, top: cell.y, filter: "blur(0.45px)" }}
    />
  );
};

export default function App() {
  return (
    <div style={{ position: "absolute", left: 0, top: 0, width: 962, height: 1171, background: "#fff", overflow: "hidden" }}>
      {panels.map(p => (
        <div key={p.letter}>
          <ContourPanel spec={p} />
          <ColorBar spec={p} />
        </div>
      ))}
    </div>
  );
}
